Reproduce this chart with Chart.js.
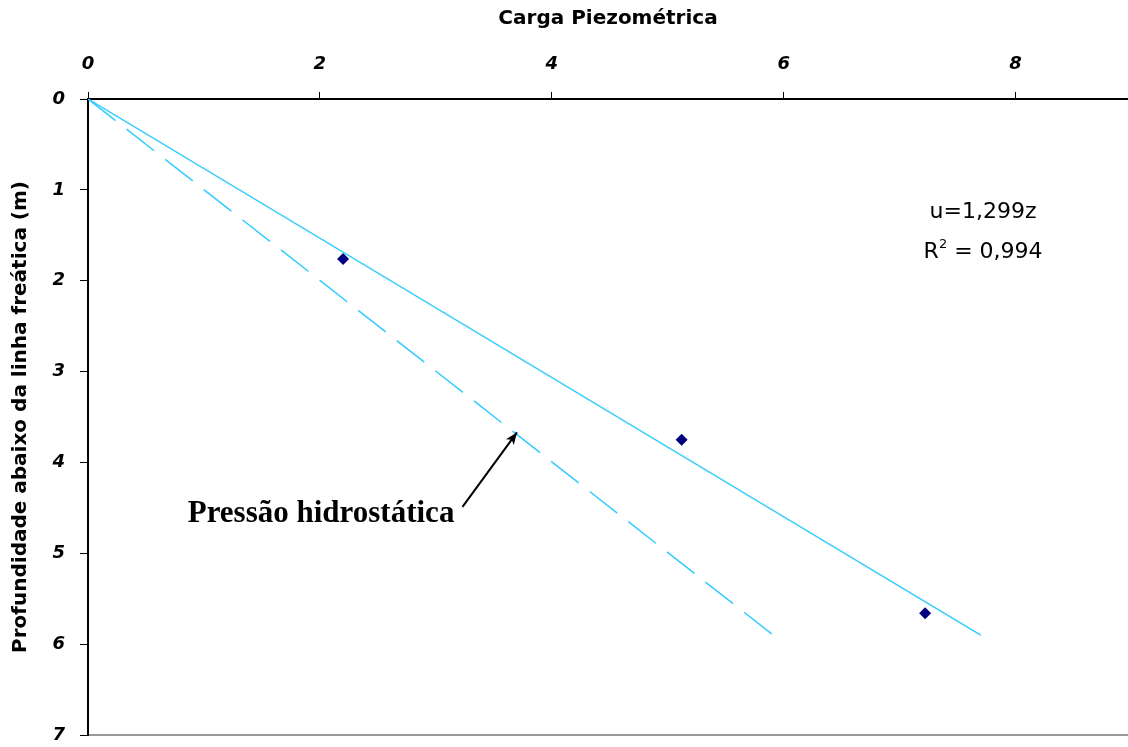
<!DOCTYPE html>
<html lang="pt">
<head>
<meta charset="UTF-8">
<title>Carga Piezométrica</title>
<script src="https://cdn.jsdelivr.net/npm/chart.js"></script>
<style>
  body { margin: 0; background: #fff; }
  #grafico { display: block; }
</style>
</head>
<body>
<canvas id="grafico" width="1128" height="747"></canvas>
<script>
// dados
const cargaMedida = [2.2, 5.12, 7.22];
const profundidadeMedida = [1.76, 3.75, 5.66];

// reta de ajuste u = 1,299z
const cargaAjuste = [0, 7.7];
const profundidadeAjuste = [0, 5.9];

// pressão hidrostática
const cargaHidro = [0, 5.93];
const profundidadeHidro = [0, 5.92];

const ticksX = [0, 2, 4, 6, 8];
const ticksY = [0, 1, 2, 3, 4, 5, 6, 7];

const textoHidro = 'Pressão hidrostática';
// posição da seta e dos rótulos em valores do gráfico
const setaPonta = [3.7, 3.67];
const setaBase = [3.23, 4.49];
const rotuloHidro = [3.16, 4.66];
const rotuloEquacao = [7.72, 1.25];

function pares(xs, ys) {
  return xs.map((x, i) => ({ x: x, y: ys[i] }));
}

const fonteEixo = { family: 'DejaVu Sans', size: 18, weight: 'bold', style: 'italic' };

// desenha os textos e a seta
const anotacoes = {
  id: 'anotacoes',
  afterDatasetsDraw(chart) {
    const ctx = chart.ctx;
    const sx = chart.scales.x, sy = chart.scales.y;
    ctx.save();

    // equação
    ctx.fillStyle = '#000';
    const ex = sx.getPixelForValue(rotuloEquacao[0]);
    const ey = sy.getPixelForValue(rotuloEquacao[1]);
    ctx.font = '22px "DejaVu Sans"';
    ctx.textBaseline = 'middle';
    ctx.textAlign = 'center';
    ctx.fillText('u=1,299z', ex, ey);
    // R² = 0,994 em partes
    const a = 'R', b = ' = 0,994';
    const wa = ctx.measureText(a).width, wb = ctx.measureText(b).width;
    ctx.font = '13px "DejaVu Sans"';
    const w2 = ctx.measureText('2').width;
    const x0 = ex - (wa + w2 + wb) / 2;
    const y2 = ey + 40;
    ctx.textAlign = 'left';
    ctx.fillText('2', x0 + wa, y2 - 8);
    ctx.font = '22px "DejaVu Sans"';
    ctx.fillText(a, x0, y2);
    ctx.fillText(b, x0 + wa + w2, y2);

    // rótulo pressão hidrostática
    ctx.font = 'bold 31px "Liberation Serif", "Times New Roman"';
    ctx.textAlign = 'right';
    ctx.textBaseline = 'alphabetic';
    ctx.fillText(textoHidro, sx.getPixelForValue(rotuloHidro[0]), sy.getPixelForValue(rotuloHidro[1]));

    // seta
    const x1 = sx.getPixelForValue(setaBase[0]), y1 = sy.getPixelForValue(setaBase[1]);
    const xp = sx.getPixelForValue(setaPonta[0]), yp = sy.getPixelForValue(setaPonta[1]);
    ctx.strokeStyle = '#000';
    ctx.lineWidth = 2;
    ctx.beginPath();
    ctx.moveTo(x1, y1);
    ctx.lineTo(xp, yp);
    ctx.stroke();
    const ang = Math.atan2(yp - y1, xp - x1);
    ctx.beginPath();
    ctx.moveTo(xp, yp);
    ctx.lineTo(xp - 13 * Math.cos(ang - 0.38), yp - 13 * Math.sin(ang - 0.38));
    ctx.lineTo(xp - 9 * Math.cos(ang), yp - 9 * Math.sin(ang));
    ctx.lineTo(xp - 13 * Math.cos(ang + 0.38), yp - 13 * Math.sin(ang + 0.38));
    ctx.closePath();
    ctx.fillStyle = '#000';
    ctx.fill();

    ctx.restore();
  }
};

const grafico = new Chart(document.getElementById('grafico'), {
  type: 'scatter',
  data: {
    datasets: [
      {
        label: 'Ajuste',
        data: pares(cargaAjuste, profundidadeAjuste),
        showLine: true,
        borderColor: '#33ccff',
        borderWidth: 1.5,
        pointRadius: 0,
        fill: false
      },
      {
        label: 'Hidrostática',
        data: pares(cargaHidro, profundidadeHidro),
        showLine: true,
        borderColor: '#33ccff',
        borderWidth: 1.5,
        borderDash: [35, 14],
        pointRadius: 0,
        fill: false
      },
      {
        label: 'Medido',
        data: pares(cargaMedida, profundidadeMedida),
        pointStyle: 'rectRot',
        pointRadius: 6,
        backgroundColor: '#000080',
        borderColor: '#000080',
        borderWidth: 0
      }
    ]
  },
  options: {
    responsive: false,
    animation: false,
    layout: { padding: 0, autoPadding: false },
    plugins: {
      legend: { display: false },
      tooltip: { enabled: false }
    },
    scales: {
      x: {
        type: 'linear',
        position: 'top',
        min: 0,
        max: 8.97,
        afterBuildTicks: s => { s.ticks = ticksX.map(v => ({ value: v })); },
        afterFit: s => { s.height = 99; s.paddingLeft = 0; s.paddingRight = 0; },
        ticks: { color: '#000', font: fonteEixo, padding: 17, maxRotation: 0 },
        grid: { drawOnChartArea: false, drawTicks: true, tickLength: 7, color: '#000', lineWidth: 1 },
        border: { color: '#000', width: 2 },
        title: {
          display: true,
          text: 'Carga Piezométrica',
          color: '#000',
          font: { family: 'DejaVu Sans', size: 20, weight: 'bold' },
          padding: { top: 7, bottom: 0 }
        }
      },
      x2: {
        type: 'linear',
        position: 'bottom',
        min: 0,
        max: 8.97,
        afterFit: s => { s.height = 12; s.paddingLeft = 0; s.paddingRight = 0; },
        ticks: { display: false },
        grid: { display: false },
        border: { color: '#999', width: 2 }
      },
      y: {
        type: 'linear',
        reverse: true,
        min: 0,
        max: 7,
        afterBuildTicks: s => { s.ticks = ticksY.map(v => ({ value: v })); },
        afterFit: s => { s.width = 88; s.paddingTop = 0; s.paddingBottom = 0; },
        ticks: { color: '#000', font: fonteEixo, padding: 15 },
        grid: { drawOnChartArea: false, drawTicks: true, tickLength: 8, color: '#000', lineWidth: 1 },
        border: { color: '#000', width: 2 },
        title: {
          display: true,
          text: 'Profundidade abaixo da linha freática (m)',
          color: '#000',
          font: { family: 'DejaVu Sans', size: 20, weight: 'bold' },
          padding: { top: 9, bottom: 0 }
        }
      }
    }
  },
  plugins: [anotacoes]
});
</script>
</body>
</html>
